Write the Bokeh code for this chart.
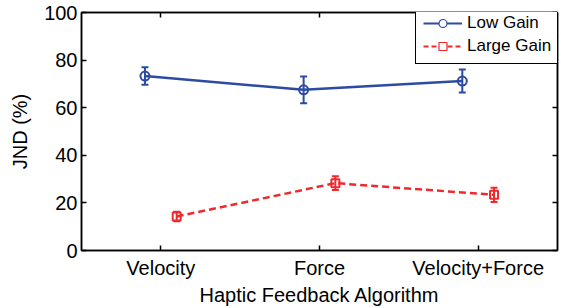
from bokeh.plotting import figure
from bokeh.models import (Range1d, FixedTicker, LinearAxis, Whisker, TeeHead,
                          ColumnDataSource, Legend, LegendItem, CustomJSTickFormatter)
from bokeh.embed import file_html
from bokeh.resources import INLINE

categories = ["Velocity", "Force", "Velocity+Force"]
positions = [1, 2, 3]
low_gain = [73.3, 67.5, 71.2]
low_gain_err = [3.7, 5.6, 4.8]
large_gain = [14.3, 28.3, 23.4]
large_gain_err = [2.0, 2.9, 3.0]
y_ticks = [0, 20, 40, 60, 80, 100]
series_names = ["Low Gain", "Large Gain"]
offset = 0.1

BLUE = "#2D4BA3"
RED = "#EE2A2E"
FONT = "Liberation Sans"

p = figure(width=561, height=308, output_backend="svg", toolbar_location=None,
           x_range=Range1d(0.5, 3.5), y_range=Range1d(0, 100),
           min_border_left=81, min_border_right=4, min_border_top=12,
           min_border_bottom=58)
p.grid.visible = False
p.outline_line_color = "black"
p.outline_line_width = 1.5

xl = [x - offset for x in positions]
xr = [x + offset for x in positions]
src_low = ColumnDataSource(dict(x=xl, y=low_gain,
                                lo=[v - e for v, e in zip(low_gain, low_gain_err)],
                                hi=[v + e for v, e in zip(low_gain, low_gain_err)]))
src_large = ColumnDataSource(dict(x=xr, y=large_gain,
                                  lo=[v - e for v, e in zip(large_gain, large_gain_err)],
                                  hi=[v + e for v, e in zip(large_gain, large_gain_err)]))

for src, col in ((src_low, BLUE), (src_large, RED)):
    w = Whisker(source=src, base="x", lower="lo", upper="hi", line_color=col,
                line_width=2,
                upper_head=TeeHead(size=7, line_color=col, line_width=2),
                lower_head=TeeHead(size=7, line_color=col, line_width=2))
    p.add_layout(w)

p.line("x", "y", source=src_low, line_color=BLUE, line_width=2.5)
p.scatter("x", "y", source=src_low, marker="circle", size=9,
          line_color=BLUE, line_width=2, fill_color=None)
p.line("x", "y", source=src_large, line_color=RED, line_width=2.5,
       line_dash="7 4")
p.scatter("x", "y", source=src_large, marker="square", size=8,
          line_color=RED, line_width=2, fill_color=None)

# legend-only glyphs (a single non-drawable NaN point) with smaller markers
nan_src = ColumnDataSource(dict(x=[float("nan")], y=[float("nan")]))
lg1 = p.line("x", "y", source=nan_src, line_color=BLUE, line_width=2)
lm1 = p.scatter("x", "y", source=nan_src, marker="circle", size=6,
                line_color=BLUE, line_width=1.2, fill_color="white")
lg2 = p.line("x", "y", source=nan_src, line_color=RED, line_width=2,
             line_dash="5 3")
lm2 = p.scatter("x", "y", source=nan_src, marker="square", size=6,
                line_color=RED, line_width=1.2, fill_color="white")

def style_axis(ax):
    ax.axis_line_width = 1.5
    ax.major_tick_line_width = 1.5
    ax.major_tick_in = 5
    ax.major_tick_out = 0
    ax.minor_tick_in = 0
    ax.minor_tick_out = 0
    ax.major_label_text_font = FONT
    ax.major_label_text_font_size = "20px"
    ax.major_label_text_color = "black"
    ax.axis_label_text_font = FONT
    ax.axis_label_text_font_size = "20px"
    ax.axis_label_text_font_style = "normal"
    ax.axis_label_text_color = "black"

xa = p.xaxis[0]
xa.ticker = FixedTicker(ticks=positions)
xa.major_label_overrides = {pos: c for pos, c in zip(positions, categories)}
xa.axis_label = "Haptic Feedback Algorithm"
style_axis(xa)
xa.major_label_standoff = 6
xa.axis_label_standoff = 2

ya = p.yaxis[0]
ya.ticker = FixedTicker(ticks=y_ticks)
ya.axis_label = "JND (%)"
style_axis(ya)
ya.major_label_standoff = 4
ya.axis_label_standoff = 10

blank = CustomJSTickFormatter(code="return '';")
top = LinearAxis(ticker=FixedTicker(ticks=positions), formatter=blank)
right = LinearAxis(ticker=FixedTicker(ticks=y_ticks), formatter=blank)
for ax in (top, right):
    style_axis(ax)
    ax.major_label_standoff = 0
    ax.axis_label_standoff = 0
p.add_layout(top, "above")
p.add_layout(right, "right")

legend = Legend(items=[LegendItem(label=series_names[0], renderers=[lg1, lm1]),
                       LegendItem(label=series_names[1], renderers=[lg2, lm2])],
                location=(334, 186),
                label_text_font=FONT,
                label_text_font_size="17px",
                label_text_color="black",
                border_line_color="black", border_line_width=1.5,
                border_line_alpha=1.0,
                background_fill_color="white", background_fill_alpha=1.0,
                glyph_width=39, glyph_height=20, label_height=20,
                label_standoff=5, spacing=3, padding=7, margin=0)
p.add_layout(legend, "center")

open("out.html", "w").write(file_html(p, INLINE))
